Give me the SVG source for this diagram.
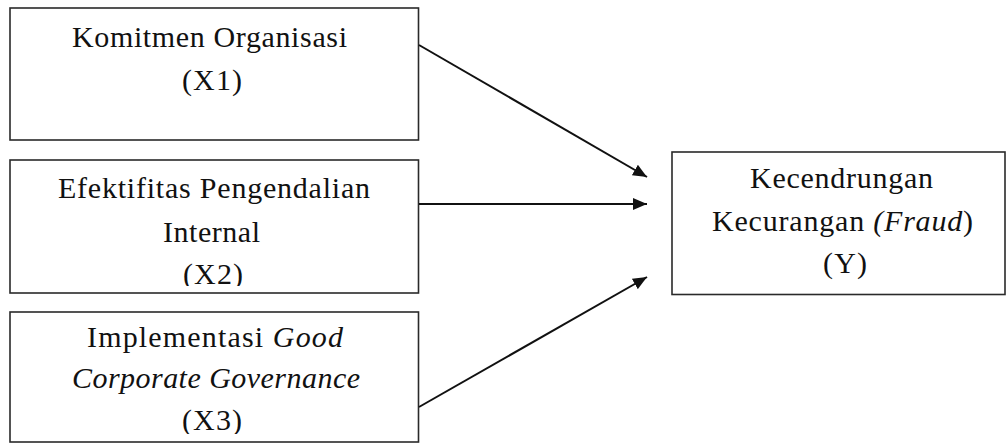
<svg xmlns="http://www.w3.org/2000/svg" width="1008" height="443" viewBox="0 0 1008 443">
  <style>
    .box { fill: #ffffff; stroke: #2a2a2a; stroke-width: 1.6; }
    .lbl { font-family: "Liberation Serif", "Times New Roman", serif; font-size: 30px; fill: #111111; }
    .it { font-style: italic; }
    .edge { fill: none; stroke: #111111; stroke-width: 2; marker-end: url(#arrow); }
  </style>
  <defs>
    <marker id="arrow" markerWidth="14" markerHeight="12" refX="14" refY="6" orient="auto" markerUnits="userSpaceOnUse">
      <path d="M0,0 L14,6 L0,12 Z" fill="#111111"/>
    </marker>
    <clipPath id="clipX2"><rect x="0" y="150" width="430" height="136"/></clipPath>
    <clipPath id="clipX3"><rect x="0" y="300" width="430" height="134"/></clipPath>
  </defs>

  <rect width="1008" height="443" fill="#ffffff"/>

  <g id="node-x1">
    <rect class="box" x="10" y="8" width="408.5" height="132"/>
    <text class="lbl" x="72" y="47" textLength="275" lengthAdjust="spacing">Komitmen Organisasi</text>
    <text class="lbl" x="182" y="90" textLength="60" lengthAdjust="spacing">(X1)</text>
  </g>

  <g id="node-x2">
    <rect class="box" x="10" y="160" width="408.5" height="133"/>
    <g clip-path="url(#clipX2)">
      <text class="lbl" x="58" y="198" textLength="312" lengthAdjust="spacing">Efektifitas Pengendalian</text>
      <text class="lbl" x="163" y="242" textLength="97" lengthAdjust="spacing">Internal</text>
      <text class="lbl" x="183" y="284" textLength="60" lengthAdjust="spacing">(X2)</text>
    </g>
  </g>

  <g id="node-x3">
    <rect class="box" x="10" y="312" width="408.5" height="130"/>
    <g clip-path="url(#clipX3)">
      <text class="lbl" x="87" y="347" textLength="256" lengthAdjust="spacing">Implementasi <tspan class="it">Good</tspan></text>
      <text class="lbl it" x="72" y="388" textLength="288" lengthAdjust="spacing">Corporate Governance</text>
      <text class="lbl" x="182" y="430" textLength="60" lengthAdjust="spacing">(X3)</text>
    </g>
  </g>

  <g id="node-y">
    <rect class="box" x="672" y="152" width="333" height="142.5"/>
    <text class="lbl" x="750" y="188" textLength="183" lengthAdjust="spacing">Kecendrungan</text>
    <text class="lbl" x="712" y="231" textLength="261" lengthAdjust="spacing">Kecurangan <tspan class="it">(Fraud</tspan>)</text>
    <text class="lbl" x="823" y="273" textLength="44" lengthAdjust="spacing">(Y)</text>
  </g>

  <g id="connectors">
    <line class="edge" x1="419" y1="45" x2="647" y2="177"/>
    <line class="edge" x1="419" y1="204" x2="647" y2="204"/>
    <line class="edge" x1="419" y1="407" x2="647" y2="277"/>
  </g>
</svg>
